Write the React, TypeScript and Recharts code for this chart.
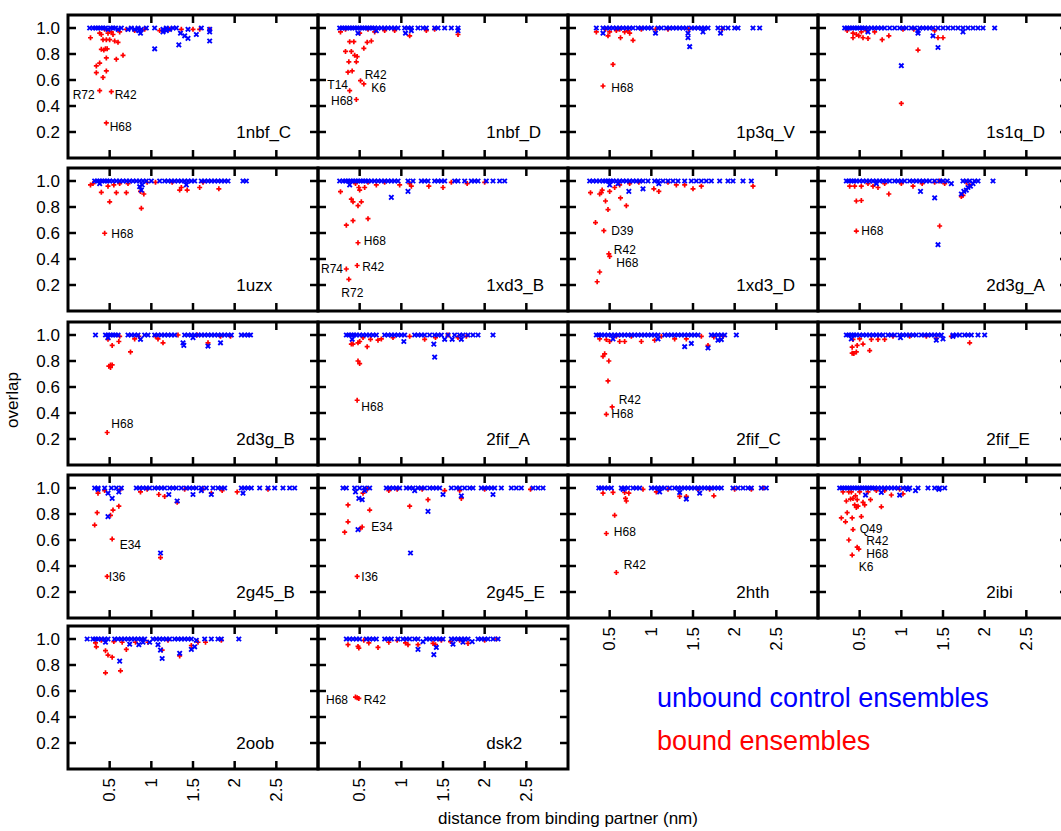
import React from 'react'
import { ScatterChart, Scatter, XAxis, YAxis, ReferenceArea } from 'recharts'

type Pt = [number, number]
type Tag = [string, number, number, 'start' | 'end']

const panelNames = [
  '1nbf_C', '1nbf_D', '1p3q_V', '1s1q_D',
  '1uzx', '1xd3_B', '1xd3_D', '2d3g_A',
  '2d3g_B', '2fif_A', '2fif_C', '2fif_E',
  '2g45_B', '2g45_E', '2hth', '2ibi',
  '2oob', 'dsk2',
]
const xTicks = [0.5, 1, 1.5, 2, 2.5]
const yTicks = [0.2, 0.4, 0.6, 0.8, 1.0]

// unbound control ensembles (blue x) and bound ensembles (red +), one pair per panel
const nbfC_u: Pt[] = [[0.26,1],[0.3,1],[0.33,1],[0.36,1],[0.39,1],[0.42,1],[0.45,1],[0.48,0.99],[0.51,1],[0.54,1],[0.57,1],[0.6,0.99],[0.64,1],[0.72,0.99],[0.76,1],[0.8,0.99],[0.84,1],[0.88,0.99],[0.94,1],[1.04,1],[1.14,0.99],[1.18,1],[1.22,0.99],[1.26,1],[1.3,1],[1.44,0.99],[1.6,1],[1.7,0.99],[1.04,0.84],[0.87,0.96],[1.14,0.97],[1.33,0.87],[1.35,0.96],[1.4,0.94],[1.44,0.92],[1.54,0.95],[1.7,0.9],[1.7,0.97],[0.85,0.98],[1.18,0.98]]
const nbfC_b: Pt[] = [[0.27,0.925],[0.38,0.96],[0.4,0.95],[0.42,0.91],[0.4,0.836],[0.43,0.83],[0.45,0.84],[0.47,0.84],[0.46,0.91],[0.5,0.91],[0.48,0.96],[0.52,0.97],[0.54,0.95],[0.56,0.9],[0.6,0.89],[0.62,0.97],[0.66,0.79],[0.58,0.76],[0.46,0.77],[0.34,0.708],[0.38,0.73],[0.34,0.656],[0.46,0.67],[0.42,0.62],[0.38,0.518],[0.52,0.51],[0.46,0.27],[0.8,0.98],[0.92,0.99],[1.1,0.98],[1.22,0.99],[1.36,0.99],[1.5,0.99],[1.58,0.99],[1.7,0.99],[0.7,0.99],[0.44,0.99]]
const nbfD_u: Pt[] = [[0.26,1],[0.29,1],[0.32,1],[0.35,1],[0.38,1],[0.41,1],[0.44,1],[0.47,1],[0.5,1],[0.53,1],[0.56,1],[0.59,1],[0.62,1],[0.65,1],[0.68,1],[0.72,1],[0.76,1],[0.8,1],[0.84,1],[0.88,1],[0.92,1],[0.96,1],[1.04,1],[1.08,1],[1.12,1],[1.2,1],[1.26,1],[1.3,1],[1.4,1],[1.44,1],[1.52,1],[1.6,1],[1.68,1],[0.48,0.96],[1.05,0.96],[1.68,0.98],[1.12,0.98],[0.7,0.98]]
const nbfD_b: Pt[] = [[0.27,0.97],[0.5,0.96],[0.68,0.97],[1.1,0.94],[1.68,0.95],[0.38,0.895],[0.43,0.895],[0.59,0.89],[0.64,0.9],[0.55,0.844],[0.33,0.82],[0.4,0.82],[0.44,0.79],[0.47,0.78],[0.37,0.74],[0.46,0.74],[0.36,0.66],[0.41,0.67],[0.51,0.595],[0.55,0.57],[0.38,0.518],[0.46,0.45],[0.8,0.98],[0.92,0.98],[1.3,0.98],[1.4,0.99],[0.6,0.99],[0.33,0.99]]
const p3qV_u: Pt[] = [[0.34,1],[0.42,1],[0.46,1],[0.5,1],[0.54,1],[0.58,1],[0.62,1],[0.66,1],[0.7,1],[0.74,1],[0.78,1],[0.84,1],[0.88,1],[0.92,1],[0.96,1],[1.0,1],[1.08,1],[1.12,1],[1.18,1],[1.22,1],[1.26,1],[1.3,1],[1.34,1],[1.38,1],[1.42,1],[1.48,1],[1.52,1],[1.56,1],[1.6,1],[1.64,1],[1.68,1],[1.8,1],[1.86,1],[1.92,1],[2.0,1],[2.04,1],[2.22,1],[2.3,1],[0.42,0.96],[1.05,0.96],[1.44,0.96],[1.44,0.925],[1.46,0.856],[1.62,0.97],[1.83,0.96]]
const p3qV_b: Pt[] = [[0.34,0.97],[0.48,0.94],[0.5,0.97],[0.63,0.925],[0.68,0.97],[0.74,0.96],[0.78,0.905],[0.54,0.72],[0.42,0.554],[0.45,0.99],[0.58,0.98],[0.62,0.99],[0.88,0.99],[1.05,0.99],[1.2,0.99],[1.45,0.99],[1.85,0.99],[0.72,0.98]]
const s1qD_u: Pt[] = [[0.32,1],[0.35,1],[0.38,1],[0.41,1],[0.44,1],[0.47,1],[0.5,1],[0.53,1],[0.56,1],[0.6,1],[0.64,1],[0.68,1],[0.72,1],[0.76,1],[0.8,1],[0.86,1],[0.92,1],[0.98,1],[1.02,1],[1.06,1],[1.12,1],[1.16,1],[1.22,1],[1.26,1],[1.3,1],[1.34,1],[1.38,1],[1.44,1],[1.5,1],[1.56,1],[1.62,1],[1.68,1],[1.74,1],[1.8,1],[1.86,1],[1.92,1],[1.98,1],[2.12,1],[1.2,0.96],[1.38,0.94],[1.44,0.85],[1.0,0.71],[1.74,0.97],[0.6,0.97],[1.2,0.98]]
const s1qD_b: Pt[] = [[0.42,0.925],[0.49,0.94],[0.54,0.925],[0.6,0.92],[0.85,0.94],[0.77,0.91],[1.2,0.83],[1.44,0.925],[1.5,0.925],[1.0,0.42],[0.68,0.97],[0.35,0.98],[0.42,0.96],[0.52,0.97],[0.46,0.95],[0.58,0.98],[1.02,0.99],[1.15,0.99],[1.4,0.98]]
const uzx_u: Pt[] = [[0.32,1],[0.35,1],[0.38,1],[0.41,1],[0.44,1],[0.47,1],[0.5,1],[0.54,1],[0.58,1],[0.62,1],[0.66,1],[0.7,1],[0.74,1],[0.78,1],[0.82,1],[0.86,1],[0.9,1],[0.94,1],[1.0,1],[1.1,1],[1.16,1],[1.2,1],[1.24,1],[1.28,1],[1.32,1],[1.36,1],[1.4,1],[1.44,1],[1.48,1],[1.52,1],[1.6,1],[1.64,1],[1.68,1],[1.72,1],[1.76,1],[1.8,1],[1.84,1],[1.88,1],[1.92,1],[2.1,1],[2.14,1],[0.38,0.98],[0.86,0.956],[1.42,0.97],[0.88,0.93],[0.89,0.97]]
const uzx_b: Pt[] = [[0.27,0.97],[0.4,0.913],[0.48,0.96],[0.5,0.84],[0.55,0.97],[0.58,0.91],[0.62,0.98],[0.7,0.91],[0.72,0.98],[0.87,0.92],[0.91,0.9],[0.88,0.79],[1.34,0.93],[1.36,0.95],[1.43,0.93],[1.58,0.95],[1.81,0.94],[0.44,0.598],[0.3,0.98],[1.05,0.99],[1.25,0.99],[1.62,0.99],[0.95,0.99]]
const xd3B_u: Pt[] = [[0.26,1],[0.3,1],[0.33,1],[0.36,1],[0.39,1],[0.42,1],[0.45,1],[0.48,1],[0.51,1],[0.54,1],[0.57,1],[0.6,1],[0.64,1],[0.68,1],[0.72,1],[0.76,1],[0.8,1],[0.84,1],[0.88,1],[0.92,1],[0.96,1],[1.08,1],[1.14,1],[1.24,1],[1.28,1],[1.32,1],[1.4,1],[1.44,1],[1.48,1],[1.52,1],[1.64,1],[1.68,1],[1.76,1],[1.84,1],[1.88,1],[1.92,1],[2.02,1],[2.1,1],[2.18,1],[2.24,1],[0.88,0.874],[1.08,0.92],[0.38,0.97]]
const xd3B_b: Pt[] = [[0.27,0.918],[0.4,0.86],[0.42,0.84],[0.52,0.84],[0.48,0.81],[0.42,0.695],[0.6,0.71],[0.34,0.66],[0.48,0.525],[0.47,0.35],[0.34,0.323],[0.37,0.244],[0.5,0.93],[0.49,0.95],[0.56,0.95],[0.7,0.97],[0.98,0.97],[1.1,0.98],[1.12,0.96],[1.33,0.96],[1.5,0.95],[1.79,0.98],[0.6,0.99],[0.8,0.99],[0.45,0.98],[1.6,0.99],[2.0,0.99]]
const xd3D_u: Pt[] = [[0.26,1],[0.3,1],[0.34,1],[0.38,1],[0.42,1],[0.45,1],[0.48,1],[0.51,1],[0.54,1],[0.58,1],[0.62,1],[0.66,1],[0.7,1],[0.74,1],[0.78,1],[0.82,1],[0.86,1],[0.9,1],[0.96,1],[1.04,1],[1.08,1],[1.14,1],[1.2,1],[1.26,1],[1.32,1],[1.4,1],[1.48,1],[1.54,1],[1.6,1],[1.66,1],[1.72,1],[1.82,1],[1.92,1],[1.98,1],[2.1,1],[2.2,1],[0.73,0.92],[0.9,0.94],[1.09,0.98],[0.5,0.97],[0.6,0.98]]
const xd3D_b: Pt[] = [[0.27,0.91],[0.38,0.9],[0.4,0.91],[0.41,0.93],[0.45,0.846],[0.5,0.92],[0.56,0.95],[0.63,0.87],[0.7,0.81],[0.48,0.78],[0.33,0.68],[0.43,0.618],[0.49,0.44],[0.5,0.42],[0.38,0.3],[0.35,0.225],[0.74,0.98],[1.03,0.94],[1.09,0.92],[1.3,0.97],[1.4,0.97],[1.5,0.94],[1.6,0.96],[2.22,0.96],[0.62,0.97],[0.85,0.99],[1.2,0.99]]
const d3gA_u: Pt[] = [[0.34,1],[0.37,1],[0.4,1],[0.43,1],[0.46,1],[0.5,1],[0.54,1],[0.58,1],[0.62,1],[0.66,1],[0.7,1],[0.74,1],[0.78,1],[0.82,1],[0.86,1],[0.92,1],[0.96,1],[1.0,1],[1.04,1],[1.1,1],[1.14,1],[1.18,1],[1.22,1],[1.26,1],[1.3,1],[1.34,1],[1.4,1],[1.46,1],[1.5,1],[1.55,1],[1.74,1],[1.78,1],[1.82,1],[1.88,1],[1.92,1],[2.1,1],[0.7,0.98],[1.23,0.92],[1.4,0.87],[1.44,0.51],[1.72,0.9],[1.75,0.92],[1.78,0.93],[1.8,0.95],[1.83,0.96],[1.86,0.98],[1.6,0.98]]
const d3gA_b: Pt[] = [[0.38,0.96],[0.46,0.846],[0.52,0.85],[0.52,0.96],[0.72,0.95],[0.85,0.9],[1.14,0.96],[1.46,0.654],[1.72,0.88],[1.74,0.89],[1.82,0.97],[0.46,0.615],[1.4,0.99],[1.46,1.0],[0.44,0.96],[0.6,0.98],[0.8,0.98],[1.0,0.98],[1.25,0.98],[1.52,0.98],[1.78,0.99],[0.66,0.96]]
const d3gB_u: Pt[] = [[0.33,1],[0.45,1],[0.48,1],[0.51,1],[0.54,1],[0.57,1],[0.6,1],[0.72,1],[0.76,1],[0.8,1],[0.84,1],[0.92,1],[0.96,1],[1.04,1],[1.08,1],[1.12,1],[1.16,1],[1.2,1],[1.24,1],[1.28,1],[1.4,1],[1.44,1],[1.48,1],[1.52,1],[1.56,1],[1.6,1],[1.64,1],[1.68,1],[1.72,1],[1.76,1],[1.8,1],[1.84,1],[1.88,1],[1.92,1],[1.96,1],[2.08,1],[2.12,1],[2.16,1],[2.19,1],[0.87,0.967],[1.38,0.94],[1.39,0.92],[1.68,0.915],[1.83,0.94],[1.5,0.98],[0.48,0.98]]
const d3gB_b: Pt[] = [[0.48,0.967],[0.53,0.92],[0.61,0.95],[0.75,0.87],[0.8,0.97],[0.49,0.76],[0.51,0.77],[0.53,0.77],[0.51,0.75],[1.08,0.97],[1.14,0.94],[1.68,0.94],[1.83,0.99],[0.47,0.25],[1.05,0.99],[1.32,1.0],[1.55,1.0],[0.62,0.99],[0.85,0.99],[1.95,0.99]]
const fifA_u: Pt[] = [[0.34,1],[0.37,1],[0.4,1],[0.43,1],[0.46,1],[0.5,1],[0.54,1],[0.58,1],[0.62,1],[0.66,1],[0.7,1],[0.8,1],[0.84,1],[0.88,1],[0.92,1],[0.96,1],[1.0,1],[1.04,1],[1.16,1],[1.2,1],[1.24,1],[1.28,1],[1.34,1],[1.4,1],[1.44,1],[1.48,1],[1.56,1],[1.64,1],[1.7,1],[1.74,1],[1.8,1],[1.86,1],[1.92,1],[2.1,1],[0.41,0.967],[1.03,0.95],[1.39,0.93],[1.4,0.83],[1.52,0.967],[1.61,0.967],[1.72,0.967]]
const fifA_b: Pt[] = [[0.4,0.93],[0.42,0.93],[0.48,0.94],[0.5,0.95],[0.59,0.91],[0.63,0.967],[0.72,0.96],[0.48,0.8],[0.5,0.78],[0.47,0.498],[1.28,0.967],[1.41,0.98],[1.56,1.0],[0.9,0.98],[0.76,0.97],[0.54,0.98],[1.1,0.99],[1.68,0.98],[1.78,0.99]]
const fifC_u: Pt[] = [[0.34,1],[0.37,1],[0.4,1],[0.44,1],[0.48,1],[0.52,1],[0.56,1],[0.6,1],[0.64,1],[0.68,1],[0.72,1],[0.76,1],[0.8,1],[0.84,1],[0.88,1],[0.92,1],[0.96,1],[1.0,1],[1.04,1],[1.08,1],[1.16,1],[1.2,1],[1.24,1],[1.28,1],[1.32,1],[1.36,1],[1.4,1],[1.44,1],[1.48,1],[1.52,1],[1.56,1],[1.72,1],[1.76,1],[1.8,1],[1.84,1],[1.88,1],[2.02,1],[1.4,0.91],[1.48,0.935],[1.68,0.9],[1.8,0.96],[1.84,0.965],[0.54,0.97],[1.08,0.97]]
const fifC_b: Pt[] = [[0.38,0.97],[0.46,0.965],[0.5,0.95],[0.62,0.95],[0.68,0.95],[0.88,0.95],[1.04,0.96],[1.28,0.97],[1.42,0.97],[1.68,0.92],[1.75,0.985],[0.42,0.836],[0.44,0.855],[0.49,0.8],[0.48,0.647],[0.53,0.447],[0.46,0.39],[0.58,0.99],[0.76,0.99],[1.12,0.99],[1.6,0.99],[1.86,0.99]]
const fifE_u: Pt[] = [[0.34,1],[0.37,1],[0.4,1],[0.43,1],[0.46,1],[0.5,1],[0.54,1],[0.58,1],[0.62,1],[0.66,1],[0.7,1],[0.74,1],[0.78,1],[0.84,1],[0.88,1],[0.92,1],[0.98,1],[1.02,1],[1.06,1],[1.1,1],[1.14,1],[1.18,1],[1.24,1],[1.28,1],[1.32,1],[1.36,1],[1.4,1],[1.44,1],[1.48,1],[1.62,1],[1.66,1],[1.7,1],[1.76,1],[1.8,1],[1.84,1],[1.92,1],[2.0,1],[1.42,0.96],[1.5,0.97],[1.62,0.99],[0.99,0.98],[0.4,0.97]]
const fifE_b: Pt[] = [[0.41,0.906],[0.47,0.92],[0.54,0.93],[0.41,0.86],[0.46,0.87],[0.43,0.857],[0.62,0.88],[0.42,0.966],[0.5,0.97],[0.64,0.966],[0.72,0.966],[0.8,0.966],[1.42,0.975],[1.82,0.94],[1.1,0.99],[1.3,0.99],[0.9,0.99],[1.6,0.99]]
const g45B_u: Pt[] = [[0.32,1],[0.36,1],[0.44,1],[0.52,1],[0.58,1],[0.64,1],[0.82,1],[0.86,1],[0.9,1],[0.94,1],[0.98,1],[1.04,1],[1.08,1],[1.12,1],[1.16,1],[1.22,1],[1.26,1],[1.3,1],[1.36,1],[1.42,1],[1.46,1],[1.5,1],[1.54,1],[1.6,1],[1.66,1],[1.74,1],[1.8,1],[1.84,1],[1.88,1],[2.08,1],[2.12,1],[2.16,1],[2.2,1],[2.3,1],[2.4,1],[2.48,1],[2.58,1],[2.66,1],[2.72,1],[0.36,0.99],[0.48,0.96],[0.53,0.92],[0.48,0.78],[0.61,0.97],[1.11,0.5],[1.21,0.95],[1.31,0.9],[1.5,0.95],[1.72,0.95],[2.1,0.96],[1.6,0.98]]
const g45B_b: Pt[] = [[0.36,0.96],[0.44,0.98],[0.32,0.715],[0.35,0.81],[0.51,0.79],[0.54,0.83],[0.61,0.86],[0.63,0.99],[0.53,0.607],[1.11,0.465],[0.47,0.32],[0.87,0.97],[1.09,0.95],[1.16,0.935],[1.31,0.89],[1.72,0.96],[1.85,0.98],[2.03,0.97],[1.4,0.99],[0.95,0.99],[2.4,0.99],[1.62,0.99]]
const g45E_u: Pt[] = [[0.3,1],[0.34,1],[0.44,1],[0.5,1],[0.56,1],[0.62,1],[0.82,1],[0.86,1],[0.9,1],[0.94,1],[0.98,1],[1.06,1],[1.1,1],[1.14,1],[1.2,1],[1.24,1],[1.28,1],[1.34,1],[1.38,1],[1.42,1],[1.46,1],[1.6,1],[1.66,1],[1.7,1],[1.76,1],[1.82,1],[1.86,1],[1.96,1],[2.0,1],[2.04,1],[2.08,1],[2.12,1],[2.2,1],[2.32,1],[2.38,1],[2.44,1],[2.58,1],[2.64,1],[2.7,1],[0.45,0.97],[0.49,0.92],[0.53,0.91],[0.48,0.68],[0.56,0.98],[1.11,0.5],[1.32,0.82],[1.5,0.95],[1.72,0.94],[2.1,0.95],[1.16,0.98]]
const g45E_b: Pt[] = [[0.32,0.66],[0.36,0.74],[0.36,0.87],[0.51,0.69],[0.53,0.7],[0.54,0.96],[0.59,0.99],[0.62,0.83],[1.1,0.86],[1.32,0.91],[1.72,0.92],[0.47,0.32],[0.85,0.98],[1.52,0.98],[1.7,0.98],[2.55,0.99],[0.95,0.99],[1.25,0.99],[2.0,0.99]]
const hth_u: Pt[] = [[0.37,1],[0.4,1],[0.44,1],[0.48,1],[0.52,1],[0.64,1],[0.68,1],[0.72,1],[0.78,1],[0.82,1],[0.86,1],[1.0,1],[1.04,1],[1.08,1],[1.12,1],[1.16,1],[1.22,1],[1.28,1],[1.32,1],[1.36,1],[1.4,1],[1.44,1],[1.48,1],[1.52,1],[1.56,1],[1.6,1],[1.64,1],[1.68,1],[1.72,1],[1.76,1],[1.8,1],[1.84,1],[1.98,1],[2.04,1],[2.1,1],[2.16,1],[2.2,1],[2.32,1],[2.38,1],[1.1,0.97],[1.34,0.966],[1.42,0.915],[1.58,0.96],[0.66,0.99]]
const hth_b: Pt[] = [[0.42,0.96],[0.54,0.966],[0.68,0.966],[0.69,0.92],[0.7,0.9],[0.73,0.96],[1.06,0.97],[1.34,0.935],[1.42,0.935],[1.75,0.94],[0.56,0.79],[0.46,0.65],[0.58,0.35],[0.9,0.99],[1.2,0.99],[1.56,0.99],[1.7,0.99],[2.0,0.99],[2.2,0.99],[2.34,1.0]]
const ibi_u: Pt[] = [[0.26,1],[0.29,1],[0.32,1],[0.35,1],[0.38,1],[0.41,1],[0.44,1],[0.47,1],[0.5,1],[0.53,1],[0.56,1],[0.59,1],[0.62,1],[0.65,1],[0.68,1],[0.72,1],[0.76,1],[0.8,1],[0.84,1],[0.88,1],[0.92,1],[0.96,1],[1.02,1],[1.06,1],[1.1,1],[1.2,1],[1.32,1],[1.4,1],[1.46,1],[1.52,1],[0.57,0.946],[0.76,0.966],[0.98,0.946],[1.08,0.99],[1.17,0.98],[1.45,0.99]]
const ibi_b: Pt[] = [[0.28,0.77],[0.33,0.74],[0.34,0.9],[0.35,0.81],[0.37,0.97],[0.39,0.915],[0.41,0.77],[0.42,0.92],[0.44,0.87],[0.45,0.94],[0.46,0.85],[0.47,0.91],[0.48,0.86],[0.52,0.78],[0.54,0.89],[0.56,0.87],[0.63,0.91],[0.76,0.855],[0.88,0.946],[0.98,0.99],[1.02,0.955],[0.42,0.68],[0.37,0.6],[0.47,0.545],[0.49,0.53],[0.41,0.484],[0.4,0.97],[0.5,0.97],[0.6,0.97],[0.7,0.98],[0.8,0.98],[0.3,0.97]]
const oob_u: Pt[] = [[0.23,1],[0.3,1],[0.33,1],[0.36,1],[0.4,1],[0.44,1],[0.48,1],[0.56,1],[0.6,1],[0.64,1],[0.68,1],[0.72,1],[0.76,1],[0.8,1],[0.84,1],[0.88,1],[0.92,1],[1.02,1],[1.06,1],[1.1,1],[1.14,1],[1.18,1],[1.22,1],[1.28,1],[1.32,1],[1.36,1],[1.4,1],[1.44,1],[1.48,1],[1.64,1],[1.72,1],[1.8,1],[1.84,1],[2.05,1],[0.62,0.83],[0.74,0.96],[0.85,0.956],[0.9,0.975],[0.98,0.975],[1.08,0.956],[1.11,0.915],[1.13,0.85],[1.34,0.89],[1.48,0.92],[1.52,0.94],[1.54,0.99],[0.45,0.975]]
const oob_b: Pt[] = [[0.33,0.97],[0.34,0.94],[0.45,0.91],[0.48,0.876],[0.53,0.86],[0.45,0.74],[0.63,0.755],[0.7,0.92],[0.65,0.975],[0.81,0.975],[0.96,0.975],[1.13,0.915],[1.34,0.87],[1.48,0.95],[1.56,0.975],[1.65,0.975],[1.84,0.99],[0.4,0.99],[0.55,0.98],[0.9,0.99],[1.2,0.99]]
const dsk2_u: Pt[] = [[0.34,1],[0.38,1],[0.42,1],[0.46,1],[0.5,1],[0.58,1],[0.62,1],[0.66,1],[0.7,1],[0.8,1],[0.84,1],[0.88,1],[0.96,1],[1.02,1],[1.06,1],[1.1,1],[1.16,1],[1.2,1],[1.3,1],[1.34,1],[1.38,1],[1.42,1],[1.46,1],[1.5,1],[1.6,1],[1.64,1],[1.68,1],[1.72,1],[1.76,1],[1.8,1],[1.92,1],[1.96,1],[2.0,1],[2.04,1],[2.1,1],[2.16,1],[1.2,0.92],[1.39,0.88],[1.42,0.935],[1.62,0.96],[1.85,0.98],[1.74,0.975],[1.26,0.98]]
const dsk2_b: Pt[] = [[0.36,0.956],[0.48,0.943],[0.49,0.93],[0.61,0.97],[0.72,0.935],[0.85,0.975],[1.05,0.97],[1.08,0.956],[1.2,0.956],[1.38,0.966],[1.41,0.956],[1.48,0.99],[1.59,0.98],[1.8,0.966],[2.14,1.0],[0.45,0.553],[0.49,0.543],[0.47,0.548],[0.55,0.99],[0.95,0.99],[1.7,0.99],[2.0,0.99]]

// residue annotations: text, x, y, anchor
const nbfC_t: Tag[] = [['R72', 0.32, 0.485, 'end'], ['R42', 0.56, 0.485, 'start'], ['H68', 0.5, 0.24, 'start']]
const nbfD_t: Tag[] = [['R42', 0.56, 0.64, 'start'], ['K6', 0.64, 0.54, 'start'], ['T14', 0.36, 0.56, 'end'], ['H68', 0.42, 0.44, 'end']]
const p3qV_t: Tag[] = [['H68', 0.52, 0.54, 'start']]
const uzx_t: Tag[] = [['H68', 0.52, 0.59, 'start']]
const xd3B_t: Tag[] = [['H68', 0.55, 0.54, 'start'], ['R42', 0.53, 0.34, 'start'], ['R74', 0.3, 0.32, 'end'], ['R72', 0.28, 0.14, 'start']]
const xd3D_t: Tag[] = [['D39', 0.52, 0.615, 'start'], ['R42', 0.55, 0.47, 'start'], ['H68', 0.58, 0.37, 'start']]
const d3gA_t: Tag[] = [['H68', 0.52, 0.615, 'start']]
const d3gB_t: Tag[] = [['H68', 0.52, 0.315, 'start']]
const fifA_t: Tag[] = [['H68', 0.52, 0.446, 'start']]
const fifC_t: Tag[] = [['R42', 0.61, 0.5, 'start'], ['H68', 0.52, 0.39, 'start']]
const g45B_t: Tag[] = [['E34', 0.62, 0.56, 'start'], ['I36', 0.49, 0.315, 'start']]
const g45E_t: Tag[] = [['E34', 0.64, 0.7, 'start'], ['I36', 0.52, 0.315, 'start']]
const hth_t: Tag[] = [['H68', 0.55, 0.66, 'start'], ['R42', 0.67, 0.41, 'start']]
const ibi_t: Tag[] = [['Q49', 0.5, 0.685, 'start'], ['R42', 0.58, 0.59, 'start'], ['H68', 0.58, 0.49, 'start'], ['K6', 0.49, 0.39, 'start']]
const dsk2_t: Tag[] = [['H68', 0.36, 0.53, 'end'], ['R42', 0.55, 0.53, 'start']]

const unbound = [nbfC_u, nbfD_u, p3qV_u, s1qD_u, uzx_u, xd3B_u, xd3D_u, d3gA_u, d3gB_u, fifA_u, fifC_u, fifE_u, g45B_u, g45E_u, hth_u, ibi_u, oob_u, dsk2_u]
const bound = [nbfC_b, nbfD_b, p3qV_b, s1qD_b, uzx_b, xd3B_b, xd3D_b, d3gA_b, d3gB_b, fifA_b, fifC_b, fifE_b, g45B_b, g45E_b, hth_b, ibi_b, oob_b, dsk2_b]
const tags = [nbfC_t, nbfD_t, p3qV_t, [], uzx_t, xd3B_t, xd3D_t, d3gA_t, d3gB_t, fifA_t, fifC_t, [], g45B_t, g45E_t, hth_t, ibi_t, [], dsk2_t] as Tag[][]

const FONT = '"Liberation Sans", Arial, Helvetica, sans-serif'
const PW = 250
const PH = 143
const ML = 62
const MR = 6
const MT = 6
const MB = 46
const TL = 8 // inward tick length
const colLeft = [68, 318, 568, 818]
const rowTop = [15, 168, 322, 475, 626]

const toXY = (pts: Pt[]) => pts.map(([x, y]) => ({ x, y }))

function Plus(p: any) {
  if (p.cx == null) return <g />
  return <path d={`M${p.cx - 2.5},${p.cy}h5M${p.cx},${p.cy - 2.5}v5`} stroke="#ff0000" strokeWidth={1.7} />
}

function Cross(p: any) {
  if (p.cx == null) return <g />
  return <path d={`M${p.cx - 2.2},${p.cy - 2.2}l4.4,4.4M${p.cx - 2.2},${p.cy + 2.2}l4.4,-4.4`} stroke="#0000ff" strokeWidth={1.9} />
}

function TagText(p: any) {
  if (p.cx == null) return <g />
  return (
    <text x={p.cx} y={p.cy} textAnchor={p.payload.a} dominantBaseline="central" fontSize={12} fontFamily={FONT} fill="#000">
      {p.payload.t}
    </text>
  )
}

function NameText(p: any) {
  if (p.cx == null) return <g />
  return (
    <text x={p.cx} y={p.cy} textAnchor="start" dominantBaseline="central" fontSize={17} fontFamily={FONT} fill="#000">
      {p.payload.t}
    </text>
  )
}

// tick renderers: each draws the inward tick at the scaled position, plus the label where the reference has one
const bottomTick = (withLabel: boolean) => (p: any) => {
  const yb = MT + PH
  const ly = yb + 9
  return (
    <g>
      <line x1={p.x} x2={p.x} y1={yb} y2={yb - TL} stroke="#000" strokeWidth={2.5} />
      {withLabel && (
        <text x={p.x} y={ly} transform={`rotate(-90 ${p.x} ${ly})`} textAnchor="end" dominantBaseline="central" fontSize={17} fontFamily={FONT} fill="#000">
          {String(p.payload.value)}
        </text>
      )}
    </g>
  )
}
const topTick = (p: any) => <line x1={p.x} x2={p.x} y1={MT} y2={MT + TL} stroke="#000" strokeWidth={2.5} />
const leftTick = (withLabel: boolean) => (p: any) => (
  <g>
    <line x1={ML} x2={ML + TL} y1={p.y} y2={p.y} stroke="#000" strokeWidth={2.5} />
    {withLabel && (
      <text x={ML - 8} y={p.y} textAnchor="end" dominantBaseline="central" fontSize={17} fontFamily={FONT} fill="#000">
        {Number(p.payload.value).toFixed(1)}
      </text>
    )}
  </g>
)
const rightTick = (p: any) => <line x1={ML + PW} x2={ML + PW - TL} y1={p.y} y2={p.y} stroke="#000" strokeWidth={2.5} />

function Panel({ i }: { i: number }) {
  const col = i % 4
  const row = Math.floor(i / 4)
  const showY = col === 0
  const showX = i >= 14
  const tagData = tags[i].map(([t, x, y, a]) => ({ t, x, y, a }))
  return (
    <div style={{ position: 'absolute', left: colLeft[col] - ML, top: rowTop[row] - MT }}>
      <ScatterChart width={PW + ML + MR} height={PH + MT + MB} margin={{ top: MT, right: MR, bottom: MB, left: ML }}>
        <XAxis xAxisId="b" orientation="bottom" type="number" dataKey="x" domain={[0, 3]} ticks={xTicks} interval={0}
          allowDataOverflow mirror axisLine={false} tickLine={false} tick={bottomTick(showX)} />
        <XAxis xAxisId="t" orientation="top" type="number" dataKey="x" domain={[0, 3]} ticks={xTicks} interval={0}
          allowDataOverflow mirror axisLine={false} tickLine={false} tick={topTick} />
        <YAxis yAxisId="l" orientation="left" type="number" dataKey="y" domain={[0, 1.1]} ticks={yTicks} interval={0}
          allowDataOverflow mirror axisLine={false} tickLine={false} tick={leftTick(showY)} />
        <YAxis yAxisId="r" orientation="right" type="number" dataKey="y" domain={[0, 1.1]} ticks={yTicks} interval={0}
          allowDataOverflow mirror axisLine={false} tickLine={false} tick={rightTick} />
        <ReferenceArea xAxisId="b" yAxisId="l" x1={0} x2={3} y1={0} y2={1.1} fill="none" fillOpacity={0} stroke="#000" strokeWidth={3} />
        <Scatter xAxisId="b" yAxisId="l" data={toXY(bound[i])} shape={Plus} isAnimationActive={false} />
        <Scatter xAxisId="b" yAxisId="l" data={toXY(unbound[i])} shape={Cross} isAnimationActive={false} />
        <Scatter xAxisId="b" yAxisId="l" data={tagData} shape={TagText} isAnimationActive={false} />
        <Scatter xAxisId="b" yAxisId="l" data={[{ t: panelNames[i], x: 2.02, y: 0.2 }]} shape={NameText} isAnimationActive={false} />
      </ScatterChart>
    </div>
  )
}

export default function App() {
  return (
    <div style={{ position: 'fixed', left: 0, top: 0, width: 1061, height: 831, overflow: 'hidden', background: '#fff' }}>
      {panelNames.map((n, i) => (
        <Panel key={n} i={i} />
      ))}
      <svg width={1061} height={831} style={{ position: 'absolute', left: 0, top: 0, pointerEvents: 'none' }}>
        <text x={12} y={400} transform="rotate(-90 12 400)" textAnchor="middle" dominantBaseline="central" fontSize={17} fontFamily={FONT} fill="#000">
          overlap
        </text>
        <text x={568} y={818} textAnchor="middle" dominantBaseline="central" fontSize={17} fontFamily={FONT} fill="#000">
          distance from binding partner (nm)
        </text>
        <text x={657} y={707} fontSize={27} fontFamily={FONT} fill="#0000ff">
          unbound control ensembles
        </text>
        <text x={657} y={750} fontSize={27} fontFamily={FONT} fill="#ff0000">
          bound ensembles
        </text>
      </svg>
    </div>
  )
}
